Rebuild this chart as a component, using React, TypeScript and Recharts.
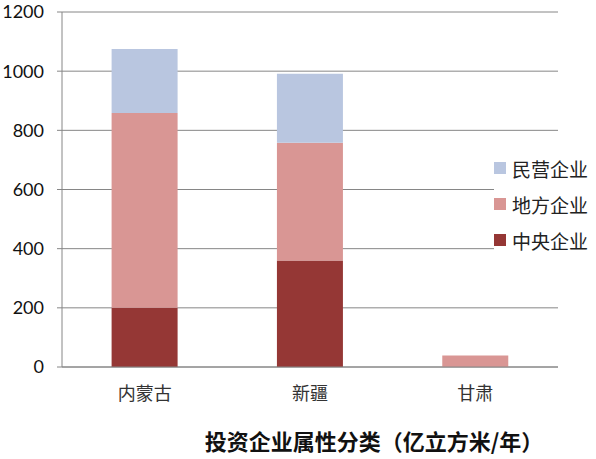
import type { ReactElement } from 'react'
import { Bar, BarChart, CartesianGrid, Legend, XAxis, YAxis } from 'recharts'

const categories = ['内蒙古', '新疆', '甘肃']
const central = [200, 360, 0]
const local = [659, 398, 39]
const privateFirm = [216, 233, 0]
const yTicks = [0, 200, 400, 600, 800, 1000, 1200]
const bandEdges = [0, 1, 2, 3]

const series = [
	{ key: 'central', name: '中央企业', color: '#953735' },
	{ key: 'local', name: '地方企业', color: '#D99694' },
	{ key: 'privateFirm', name: '民营企业', color: '#B9C6E0' }
]

const data = categories.map((name, i) => ({
	name,
	central: central[i],
	local: local[i],
	privateFirm: privateFirm[i]
}))

const CJK = "'Noto Sans CJK SC', sans-serif"
const AXIS = '#868686'

const LegendBox = (): ReactElement => (
	<div style={{ background: '#fff', padding: '4px 0' }}>
		{[...series].reverse().map((s) => (
			<div
				key={s.key}
				style={{ display: 'flex', alignItems: 'center', height: 36, fontFamily: CJK, fontSize: 19, color: '#222' }}
			>
				<span style={{ width: 12, height: 12, background: s.color, marginRight: 6, display: 'inline-block' }} />
				{s.name}
			</div>
		))}
	</div>
)

const App = (): ReactElement => (
	<div style={{ position: 'absolute', left: 0, top: 0, width: 596, height: 459, background: '#fff' }}>
		<BarChart
			width={596}
			height={459}
			data={data}
			margin={{ top: 12, right: 38, bottom: 0, left: 0 }}
			barCategoryGap='30%'
		>
			<CartesianGrid vertical={false} stroke={AXIS} strokeWidth={1} />
			<XAxis
				xAxisId='edges'
				type='number'
				domain={[0, 3]}
				ticks={bandEdges}
				allowDataOverflow
				height={0}
				tick={false}
				tickSize={5}
				axisLine={false}
				tickLine={{ stroke: AXIS }}
			/>
			<XAxis
				dataKey='name'
				height={92}
				tickLine={false}
				tickSize={0}
				tickMargin={20}
				axisLine={{ stroke: AXIS }}
				tick={{ fontFamily: CJK, fontSize: 18, fill: '#333' }}
			/>
			<YAxis
				width={62}
				domain={[0, 1200]}
				ticks={yTicks}
				tickSize={5}
				tickMargin={13}
				axisLine={{ stroke: AXIS }}
				tickLine={{ stroke: AXIS }}
				tick={{ fontFamily: 'Lato, sans-serif', fontSize: 18, fill: '#111' }}
			/>
			{series.map((s) => (
				<Bar key={s.key} dataKey={s.key} name={s.name} stackId='a' fill={s.color} isAnimationActive={false} />
			))}
			<Legend
				layout='vertical'
				align='center'
				verticalAlign='middle'
				content={<LegendBox />}
				wrapperStyle={{ left: 494, top: 146, width: 102 }}
			/>
		</BarChart>
		<div
			style={{
				position: 'absolute',
				left: 374,
				top: 440,
				transform: 'translate(-50%, -50%)',
				whiteSpace: 'nowrap',
				fontFamily: CJK,
				fontWeight: 'bold',
				fontSize: 22,
				color: '#111'
			}}
		>
			投资企业属性分类（亿立方米/年）
		</div>
	</div>
)

export default App
